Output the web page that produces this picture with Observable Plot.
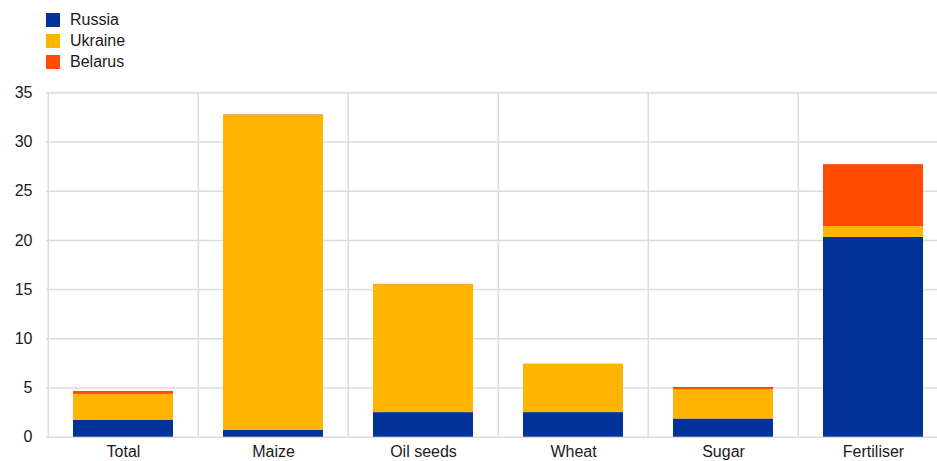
<!DOCTYPE html>
<html>
<head>
<meta charset="utf-8">
<script src="https://cdn.jsdelivr.net/npm/d3@7"></script>
<script src="https://cdn.jsdelivr.net/npm/@observablehq/plot@0.6"></script>
<style>
  html, body { margin: 0; padding: 0; background: #fff; overflow: hidden; width: 937px; height: 461px; }
  body { font-family: "Liberation Sans", Arial, sans-serif; color: #1a1a1a; }
  #legend { height: 80px; box-sizing: border-box; padding-top: 13px; padding-left: 46px; }
  .item { height: 21px; display: flex; align-items: flex-start; font-size: 16px; }
  .sw { width: 14px; height: 14px; margin-right: 10px; flex: none; }
  .lab { line-height: 14px; }
  #chart svg { display: block; overflow: visible; max-width: none !important; }
</style>
</head>
<body>
<div id="legend"></div>
<div id="chart"></div>
<script>
const categories = ["Total", "Maize", "Oil seeds", "Wheat", "Sugar", "Fertiliser"];
const series = ["Russia", "Ukraine", "Belarus"];
const colors = ["#003299", "#FFB400", "#FF4B00"];
const russia  = [1.7, 0.7, 2.5, 2.5, 1.85, 20.3];
const ukraine = [2.65, 32.0, 13.0, 4.9, 2.95, 1.1];
const belarus = [0.3, 0.05, 0.03, 0.02, 0.25, 6.3];
const yTicks = [0, 5, 10, 15, 20, 25, 30, 35];

const valuesBySeries = [russia, ukraine, belarus];
const data = [];
categories.forEach((c, i) => {
  series.forEach((s, j) => data.push({category: c, country: s, value: valuesBySeries[j][i]}));
});

// legend
const legend = document.getElementById("legend");
series.forEach((s, j) => {
  const it = document.createElement("div");
  it.className = "item";
  it.innerHTML = `<div class="sw" style="background:${colors[j]}"></div><div class="lab">${s}</div>`;
  legend.appendChild(it);
});

const width = 949, marginLeft = 46, marginRight = 0;
const step = (width - marginLeft - marginRight) / categories.length;
const gridColor = "#dcdcdc";

const chart = Plot.plot({
  width,
  height: 381,
  marginLeft,
  marginRight,
  marginTop: 12.3,
  marginBottom: 24.3,
  style: {fontFamily: "'Liberation Sans', Arial, sans-serif", fontSize: "16px", color: "#1a1a1a", background: "#fff", maxWidth: "none"},
  x: {domain: categories, paddingInner: 0.335, paddingOuter: 0.1675, label: null},
  y: {domain: [0, 35], label: null},
  color: {domain: series, range: colors},
  marks: [
    Plot.ruleY(yTicks, {stroke: gridColor, strokeWidth: 1.5}),
    Plot.ruleX(categories, {x: d => d, dx: -step / 2, stroke: gridColor, strokeWidth: 1.5}),
    Plot.barY(data, {x: "category", y: "value", fill: "country"}),
    Plot.axisY(yTicks, {tickSize: 0, tickPadding: 14, fontSize: 16, fill: "#1a1a1a"}),
    Plot.axisX({tickSize: 0, tickPadding: 8.5, fontSize: 16, fill: "#1a1a1a"})
  ]
});
document.getElementById("chart").appendChild(chart);
</script>
</body>
</html>
